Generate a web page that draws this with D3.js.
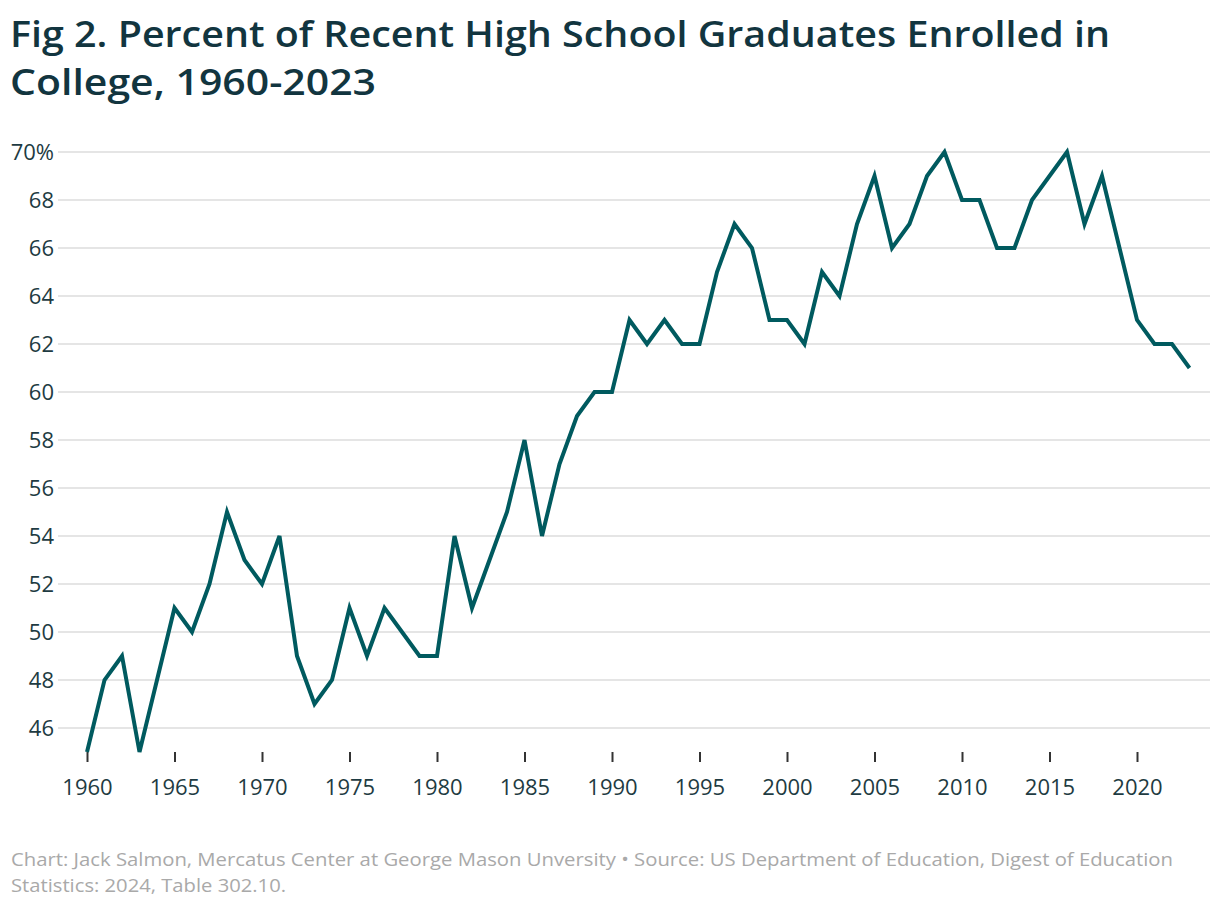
<!DOCTYPE html>
<html><head><meta charset="utf-8">
<script src="https://cdn.jsdelivr.net/npm/d3@7"></script>
<style>
body{margin:0;background:#fff;}
svg{display:block;}
</style></head>
<body>
<svg id="c" width="1220" height="910"></svg>
<script>
const years = d3.range(1960, 2024);
const values = [45,48,49,45,48,51,50,52,55,53,52,54,49,47,48,51,49,51,50,49,49,54,51,53,55,58,54,57,59,60,60,63,62,63,62,62,65,67,66,63,63,62,65,64,67,69,66,67,69,70,68,68,66,66,68,69,70,67,69,66,63,62,62,61];
const yTicks = [46,48,50,52,54,56,58,60,62,64,66,68,70];
const xTicks = [1960,1965,1970,1975,1980,1985,1990,1995,2000,2005,2010,2015,2020];
const titleLines = ["Fig 2. Percent of Recent High School Graduates Enrolled in","College, 1960-2023"];
const footLines = ["Chart: Jack Salmon, Mercatus Center at George Mason Unversity \u2022 Source: US Department of Education, Digest of Education","Statistics: 2024, Table 302.10."];

const svg = d3.select("#c");
const font = "'Open Sans', Lato, sans-serif";
const x = d3.scaleLinear().domain([1960, 2023]).range([87, 1189.5]);
const y = d3.scaleLinear().domain([45, 70]).range([752, 152]);

const titleW = [1100, 366];
svg.append("g").selectAll("text").data(titleLines).join("text")
  .attr("x", 10).attr("y", (d,i)=>47 + i*48)
  .attr("font-family", font).attr("font-weight", 600).attr("font-size", 36)
  .attr("textLength", (d,i)=>titleW[i]).attr("lengthAdjust", "spacingAndGlyphs")
  .attr("fill", "#12353f").text(d=>d);

// gridlines
svg.append("g").selectAll("line").data(yTicks).join("line")
  .attr("x1", 58).attr("x2", 1210)
  .attr("y1", d=>y(d)).attr("y2", d=>y(d))
  .attr("stroke", "#e5e5e5").attr("stroke-width", 2);

// y labels
svg.append("g").selectAll("text").data(yTicks).join("text")
  .attr("x", 54).attr("y", d=>y(d)).attr("dy", "0.36em")
  .attr("text-anchor", "end")
  .attr("font-family", font).attr("font-size", 22).attr("fill", "#1e3b42")
  .text(d => d === 70 ? "70%" : d);

// x axis
const xAxis = d3.axisBottom(x).tickValues(xTicks).tickFormat(d3.format("d")).tickSize(10).tickPadding(17);
const gx = svg.append("g").attr("transform", "translate(0,752)").call(xAxis);
gx.select(".domain").remove();
gx.selectAll(".tick line").attr("stroke", "#333").attr("stroke-width", 2);
gx.selectAll(".tick text").attr("font-family", font).attr("font-size", 22).attr("fill", "#1e3b42");

// line
const line = d3.line().x((d,i)=>x(years[i])).y(d=>y(d));
svg.append("path").datum(values).attr("d", line)
  .attr("fill", "none").attr("stroke", "#005a5f").attr("stroke-width", 4)
  .attr("stroke-linejoin", "miter");

const footW = [1162, 275];
svg.append("g").selectAll("text").data(footLines).join("text")
  .attr("x", 11).attr("y", (d,i)=>866 + i*26)
  .attr("font-family", font).attr("font-size", 17.5)
  .attr("textLength", (d,i)=>footW[i]).attr("lengthAdjust", "spacingAndGlyphs")
  .attr("fill", "#a9a9a9").text(d=>d);
</script>
</body></html>
